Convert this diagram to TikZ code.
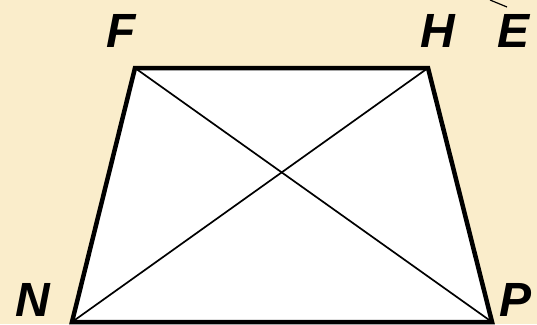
\documentclass[tikz,border=0pt]{standalone}
\usepackage{fontspec}
\setmainfont{Liberation Sans}
\definecolor{bg}{RGB}{250,237,203}
\begin{document}
\begin{tikzpicture}[x=1pt,y=-1pt,
  lbl/.style={font=\fontsize{48}{50}\selectfont\bfseries\itshape, inner sep=0pt, anchor=center},
  edge/.style={line width=4.5pt, line join=miter},
  diag/.style={line width=1.7pt}]
\fill[bg] (0,0) rectangle (537,324);
\useasboundingbox (0,0) rectangle (537,324);
\coordinate (F) at (135,68);
\coordinate (H) at (428,68);
\coordinate (P) at (492,322);
\coordinate (N) at (72,322);
\coordinate (e1) at (490,0);
\coordinate (e2) at (507,7);
\fill[white] (F) -- (H) -- (P) -- (N) -- cycle;
\draw[diag] (F) -- (P);
\draw[diag] (H) -- (N);
\draw[edge] (F) -- (H) -- (P) -- (N) -- cycle;
\draw[line width=1.2pt] (e1) -- (e2);
\node[lbl] (lF) at (121,31) {F};
\node[lbl] (lH) at (438,31) {H};
\node[lbl] (lE) at (513,31) {E};
\node[lbl] (lN) at (33,300) {N};
\node[lbl] (lP) at (515,300) {P};
\end{tikzpicture}
\end{document}
